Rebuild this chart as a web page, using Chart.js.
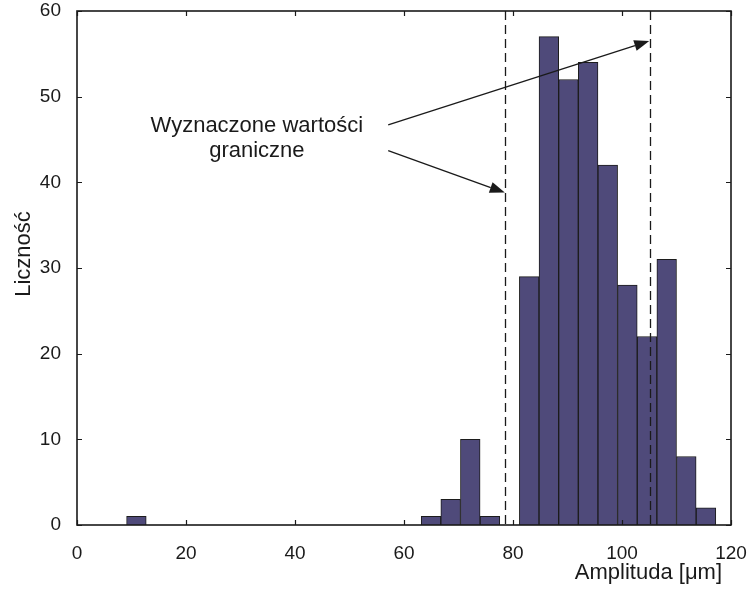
<!DOCTYPE html>
<html>
<head>
<meta charset="utf-8">
<script src="https://cdn.jsdelivr.net/npm/chart.js@4/dist/chart.umd.min.js"></script>
<style>
  html, body { margin: 0; padding: 0; background: #fff; }
  canvas { display: block; }
</style>
</head>
<body>
<canvas id="c" width="750" height="590"></canvas>
<script>
// Histogram bins (centres) and their counts
const binCenters = [10.90, 64.96, 68.56, 72.16, 75.77, 82.97, 86.58, 90.18, 93.79, 97.39, 100.99, 104.60, 108.20, 111.80, 115.41];
const counts     = [1,     1,     3,     10,    1,     29,    57,    52,    54,    42,    28,     22,     31,     8,      2];

const xTicks = [0, 20, 40, 60, 80, 100, 120];
const yTicks = [0, 10, 20, 30, 40, 50, 60];

// Limit values (dashed lines) and the note pointing at them
const limitValues = [78.5, 105.1];
const noteLines = ['Wyznaczone wartości', 'graniczne'];
const noteX = 33.0;
const noteY = [45.9, 43.0];
const arrowFromX = [57.1, 57.1];
const arrowFromY = [46.7, 43.7];
const arrowToX   = [105.0, 78.5];
const arrowToY   = [56.5, 38.8];

const xTitle = 'Amplituda [μm]';
const yTitle = 'Liczność';

const FONT = '"Liberation Sans", Arial, Helvetica, sans-serif';
const INK = '#1a1a1a';

function arrow(ctx, x0, y0, x1, y1) {
  const ang = Math.atan2(y1 - y0, x1 - x0);
  const len = 15, half = 5.5;
  const bx = x1 - len * Math.cos(ang), by = y1 - len * Math.sin(ang);
  ctx.beginPath();
  ctx.moveTo(x0, y0);
  ctx.lineTo(bx, by);
  ctx.stroke();
  ctx.beginPath();
  ctx.moveTo(x1, y1);
  ctx.lineTo(bx + half * Math.sin(ang), by - half * Math.cos(ang));
  ctx.lineTo(bx - half * Math.sin(ang), by + half * Math.cos(ang));
  ctx.closePath();
  ctx.fill();
}

const overlay = {
  id: 'overlay',
  afterDatasetsDraw(chart) {
    const { ctx, chartArea: { left, right, top, bottom }, scales: { x, y } } = chart;
    ctx.save();

    // dashed limit lines
    ctx.strokeStyle = INK;
    ctx.lineWidth = 1.3;
    ctx.setLineDash([9, 5]);
    limitValues.forEach(v => {
      const px = Math.round(x.getPixelForValue(v)) + 0.5;
      ctx.beginPath();
      ctx.moveTo(px, top);
      ctx.lineTo(px, bottom);
      ctx.stroke();
    });
    ctx.setLineDash([]);

    // note text
    ctx.fillStyle = INK;
    ctx.font = '22px ' + FONT;
    ctx.textAlign = 'center';
    ctx.textBaseline = 'alphabetic';
    noteLines.forEach((t, i) => ctx.fillText(t, x.getPixelForValue(noteX), y.getPixelForValue(noteY[i])));

    // arrows
    ctx.lineWidth = 1.3;
    for (let i = 0; i < arrowFromX.length; i++) {
      arrow(ctx,
        x.getPixelForValue(arrowFromX[i]), y.getPixelForValue(arrowFromY[i]),
        x.getPixelForValue(arrowToX[i]), y.getPixelForValue(arrowToY[i]));
    }

    // axes box with inward tick marks
    ctx.lineWidth = 1.6;
    ctx.strokeStyle = INK;
    ctx.strokeRect(left, top, right - left, bottom - top);
    ctx.lineWidth = 1.2;
    const tl = 5;
    ctx.beginPath();
    xTicks.forEach(v => {
      const px = Math.round(x.getPixelForValue(v)) + 0.5;
      ctx.moveTo(px, bottom); ctx.lineTo(px, bottom - tl);
      ctx.moveTo(px, top); ctx.lineTo(px, top + tl);
    });
    yTicks.forEach(v => {
      const py = Math.round(y.getPixelForValue(v)) + 0.5;
      ctx.moveTo(left, py); ctx.lineTo(left + tl, py);
      ctx.moveTo(right, py); ctx.lineTo(right - tl, py);
    });
    ctx.stroke();

    // axis titles
    ctx.font = '22px ' + FONT;
    ctx.textAlign = 'right';
    ctx.textBaseline = 'middle';
    ctx.fillText(xTitle, right - 9, 573);

    ctx.translate(24, (top + bottom) / 2 - 14);
    ctx.rotate(-Math.PI / 2);
    ctx.textAlign = 'center';
    ctx.fillText(yTitle, 0, 0);

    ctx.restore();
  }
};

new Chart(document.getElementById('c'), {
  type: 'bar',
  data: {
    datasets: [{
      data: binCenters.map((c, i) => ({ x: c, y: counts[i] })),
      backgroundColor: '#4F4A7A',
      borderColor: '#1c1c1c',
      borderWidth: 1,
      barPercentage: 1,
      categoryPercentage: 1
    }]
  },
  options: {
    responsive: false,
    animation: false,
    devicePixelRatio: 1,
    layout: { padding: { left: 0, right: 19, top: 11, bottom: 0 } },
    plugins: { legend: { display: false }, tooltip: { enabled: false } },
    scales: {
      x: {
        type: 'linear',
        offset: false,
        min: 0, max: 120,
        afterBuildTicks: s => { s.ticks = xTicks.map(v => ({ value: v })); },
        afterFit: s => { s.height = 65; s.paddingLeft = 0; s.paddingRight = 0; },
        grid: { display: false, offset: false },
        border: { display: false },
        ticks: { color: INK, font: { family: FONT, size: 19 }, padding: 9, maxRotation: 0, autoSkip: false }
      },
      y: {
        min: 0, max: 60,
        afterBuildTicks: s => { s.ticks = yTicks.map(v => ({ value: v })); },
        afterFit: s => { s.width = 77; s.paddingTop = 0; s.paddingBottom = 0; },
        grid: { display: false },
        border: { display: false },
        ticks: { color: INK, font: { family: FONT, size: 19 }, padding: 8 }
      }
    }
  },
  plugins: [overlay]
});
</script>
</body>
</html>
